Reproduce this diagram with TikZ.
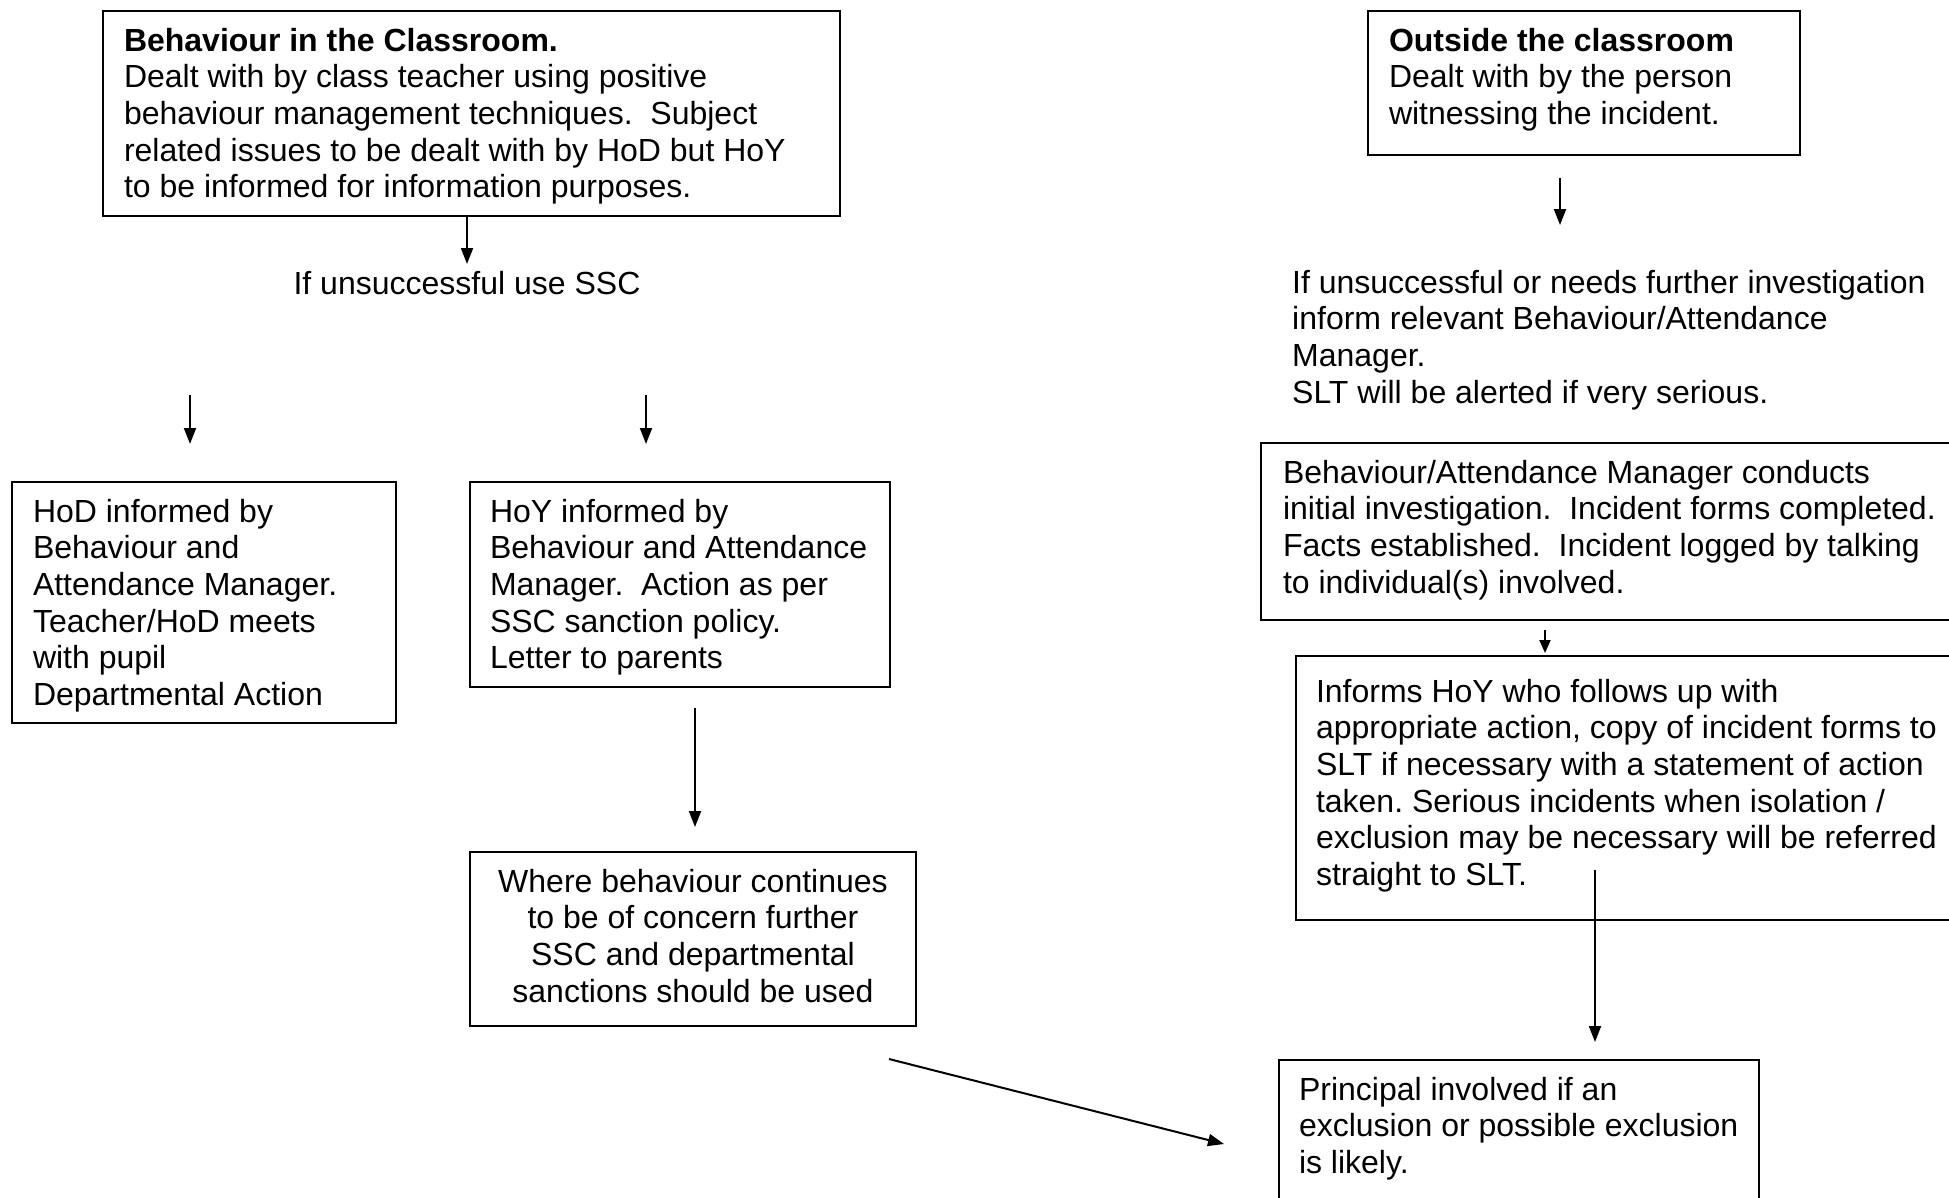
\documentclass[tikz,border=0pt]{standalone}
\usepackage{fontspec}
\setmainfont{Liberation Sans}
\usetikzlibrary{arrows.meta}
\frenchspacing
\newcommand\fs{\fontsize{32pt}{36.7pt}\selectfont}
\newcommand\bt[4]{\parbox[c][#1][t]{#2}{\raggedright\rule{0pt}{#3}#4}}
\newcommand\btc[4]{\parbox[c][#1][t]{#2}{\centering\rule{0pt}{#3}#4}}
\begin{document}
\begin{tikzpicture}[x=1pt,y=-1pt,
  font=\fs,
  box/.style={draw, line width=2pt, anchor=north west, inner xsep=#1, inner ysep=0pt},
  plain/.style={inner sep=0pt},
  arr/.style={line width=2pt, -{Triangle[length=16pt,width=12pt]}}]
\fill[white] (0,0) rectangle (1949,1197);
\clip (0,0) rectangle (1949,1197);
% left column
\node[box=21pt] (b1) at (102,10) {\bt{205pt}{695pt}{40pt}{\textbf{Behaviour in the Classroom.}\\Dealt with by class teacher using positive\\behaviour management techniques.\ \ Subject\\related issues to be dealt with by HoD but HoY\\to be informed for information purposes.}};
\node[plain, anchor=base] (ssc) at (467,294) {If unsuccessful use SSC};
\node[box=21pt] (hod) at (11,481) {\bt{241pt}{342pt}{40pt}{HoD informed by\\Behaviour and\\Attendance Manager.\\Teacher/HoD meets\\with pupil\\Departmental Action}};
\node[box=20pt] (hoy) at (469,481) {\bt{205pt}{380pt}{40pt}{HoY informed by\\Behaviour and Attendance\\Manager.\ \ Action as per\\SSC sanction policy.\\Letter to parents}};
\node[box=10pt] (where) at (469,851) {\btc{174pt}{426pt}{40pt}{Where behaviour continues\\to be of concern further\\SSC and departmental\\sanctions should be used}};
% right column
\node[box=21pt] (out) at (1367,10) {\bt{144pt}{390pt}{40pt}{\textbf{Outside the classroom}\\Dealt with by the person\\witnessing the incident.}};
\node[plain, anchor=north west] (inf) at (1292,253) {\parbox[t]{650pt}{\raggedright\rule{0pt}{40pt}If unsuccessful or needs further investigation\\inform relevant Behaviour/Attendance\\Manager.\\SLT will be alerted if very serious.}};
\node[box=22pt] (bam) at (1260,442) {\bt{177pt}{676pt}{40pt}{Behaviour/Attendance Manager conducts\\initial investigation.\ \ Incident forms completed.\\Facts established.\ \ Incident logged by talking\\to individual(s) involved.}};
\node[box=20pt] (hoyr) at (1295,655) {\bt{264pt}{660pt}{46pt}{Informs HoY who follows up with\\appropriate action, copy of incident forms to\\SLT if necessary with a statement of action\\taken. Serious incidents when isolation /\\exclusion may be necessary will be referred\\straight to SLT.}};
\node[box=20pt] (prin) at (1278,1059) {\bt{200pt}{440pt}{40pt}{Principal involved if an\\exclusion or possible exclusion\\is likely.}};
% arrow end points
\coordinate (t1) at (467,264);
\coordinate (s2) at (190,395); \coordinate (t2) at (190,444);
\coordinate (s3) at (646,395); \coordinate (t3) at (646,444);
\coordinate (s4) at (695,708); \coordinate (t4) at (695,827);
\coordinate (s5) at (1560,178); \coordinate (t5) at (1560,225);
\coordinate (s6) at (1545,630); \coordinate (t6) at (1545,653);
\coordinate (s7) at (1595,870); \coordinate (t7) at (1595,1042);
\coordinate (s8) at (889,1059); \coordinate (t8) at (1224,1144);
\draw[arr] (b1.south -| t1) -- (t1);
\draw[arr] (s2) -- (t2);
\draw[arr] (s3) -- (t3);
\draw[arr] (s4) -- (t4);
\draw[arr] (s5) -- (t5);
\draw[arr, -{Triangle[length=13pt,width=11pt]}] (s6) -- (t6);
\draw[arr] (s7) -- (t7);
\draw[arr] (s8) -- (t8);
\end{tikzpicture}
\end{document}
